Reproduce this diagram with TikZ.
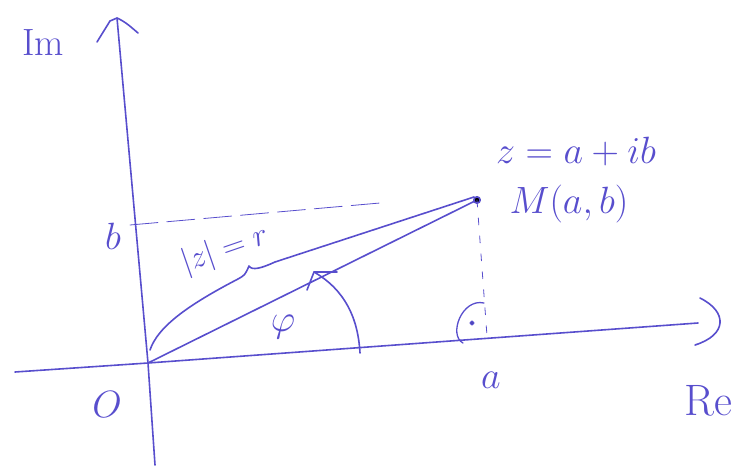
\documentclass[tikz,border=0pt]{standalone}
\usepackage{fix-cm}
\definecolor{ink}{RGB}{88,78,205}
\begin{document}
\begin{tikzpicture}[x=1pt,y=-1pt,
  ink/.style={draw=ink, line width=1.6pt, line cap=round, line join=round},
  thin/.style={draw=ink, line width=0.8pt, line cap=round},
  lbl/.style={text=ink, font=\fontsize{38}{42}\selectfont, inner sep=0pt}]
\useasboundingbox (0,0) rectangle (747,473);
% key points
\coordinate (O) at (148,363);
\coordinate (M) at (477,200);
\coordinate (ytop) at (117,18);
\coordinate (ybot) at (155,465);
\coordinate (xl) at (15,372);
\coordinate (xr) at (698,323);
\coordinate (bpt) at (130,225);
\coordinate (bend) at (380,203);
\coordinate (afoot) at (487,336);
% axes
\draw[ink] (ybot) -- (O) -- (ytop);
\draw[ink] (97,42) -- (110,21) -- (ytop) .. controls (126,22) and (132,28) .. (138,33);
\draw[ink] (xl) -- (O) -- (xr);
\draw[ink] (700,298) .. controls (728,312) and (727,335) .. (695,345);
% radius
\draw[ink] (O) -- (M);
\fill[ink] (M) circle (3.2);
% brace
\draw[ink] (150,350) .. controls (158,326) and (190,304) .. (238,279)
  .. controls (245,275) .. (249,266)
  .. controls (252,271) and (262,268) .. (275,262) -- (474,197);
% dashed projections
\draw[thin, dash pattern=on 28pt off 9pt] (bpt) -- (bend);
\draw[thin, dash pattern=on 7pt off 11pt] (M) -- (afoot);
% right-angle mark
\draw[ink, line width=1.3pt] (484,303) .. controls (462,298) and (448,335) .. (463,343);
\fill[ink] (472,323) circle (1.8);
% angle arc
\draw[ink] (360,353) .. controls (358,318) and (345,290) .. (314,272);
\draw[ink] (337,272) -- (314,272) -- (307,290);
% labels
\node[lbl] (im) at (43,43) {Im};
\node[lbl] (bl) at (113,236) {$b$};
\node[lbl] (ol) at (107,405) {$O$};
\node[lbl] (al) at (491,380) {$a$};
\node[lbl, font=\fontsize{44}{48}\selectfont] (rel) at (708,401) {Re};
\node[lbl] (phi) at (283,327) {$\varphi$};
\node[lbl, font=\fontsize{32}{36}\selectfont, rotate=19] (rl) at (225,250) {$|z|=r$};
\node[lbl] (zl) at (576,152) {$z=a+ib$};
\node[lbl] (ml) at (569,204) {$M(a,b)$};
\end{tikzpicture}
\end{document}
